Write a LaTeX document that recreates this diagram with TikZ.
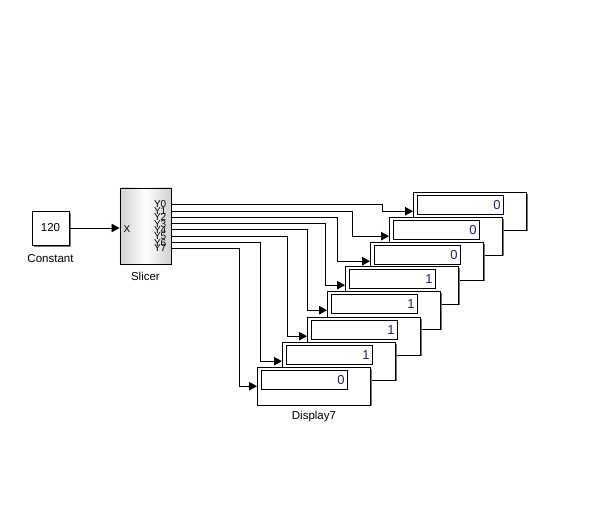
\documentclass[tikz,border=0pt]{standalone}
\usepackage{fontspec}
\setmainfont{Liberation Sans}
\usepackage{xcolor}
\usetikzlibrary{arrows.meta,positioning,shadows}

\definecolor{valcol}{RGB}{35,30,110}

\tikzset{
  blk/.style={draw=black, line width=0.9pt, fill=white, inner sep=0pt},
  shadeblk/.style={drop shadow={shadow xshift=1.5pt, shadow yshift=-1.5pt, fill=black!55, opacity=1}},
  dispbox/.style={blk, shadeblk, minimum width=113pt, minimum height=37.5pt, anchor=north west},
  valbox/.style={draw=black, line width=0.9pt, fill=white, minimum width=86pt, minimum height=19pt, anchor=north west, inner sep=0pt},
  valtxt/.style={anchor=east, inner sep=0pt, text=valcol, font=\fontsize{13}{13}\selectfont},
  wire/.style={line width=0.9pt, -{Triangle[length=8pt,width=8.5pt]}},
  lbl/.style={font=\fontsize{11.5}{12}\selectfont},
  portlbl/.style={anchor=east, inner sep=0pt, font=\fontsize{10}{10}\selectfont},
}

\begin{document}
\begin{tikzpicture}[x=1pt,y=-1pt]
\useasboundingbox (0,0) rectangle (597,515);

% Constant source
\node[blk, shadeblk, minimum width=37pt, minimum height=34pt, lbl] (const) at (50.5,228) {120};
\node[lbl, below=5pt of const] (constlbl) {Constant};

% Slicer block
\node[blk, shadeblk, left color=black!18, right color=black!18, middle color=white,
      minimum width=51pt, minimum height=76pt, anchor=north west] (slicer) at (119.5,187.5) {};
\node[lbl, below=4pt of slicer] (slicerlbl) {Slicer};
\node[portlbl, anchor=west] (xin) at (123.5,229) {X};
\draw[wire] (const.east) -- (const.east -| slicer.west);

% Output ports and displays
\foreach \i/\py/\tx/\ty/\bx/\val in {0/204.3/413/192/382/0, 1/211/389/217/352/0,
    2/217.3/370/242/337/0, 3/223.7/345/266/325.5/1, 4/229.7/327/291/307.5/1,
    5/236.3/307/317/287.3/1, 6/242.7/282/342/260.5/1, 7/248.5/257/367/239.3/0} {
  \coordinate (y\i) at (170.5,\py);
  \node[portlbl] (p\i) at (166.5,\py) {Y\i};
  \node[dispbox] (d\i) at (\tx,\ty) {};
  \node[valbox] (v\i) at ([xshift=4pt,yshift=-3pt]d\i.north west) {};
  \node[valtxt] (t\i) at ([xshift=-3pt]v\i.east) {\val};
  \draw[wire] (y\i) -- (\bx,\py) |- (d\i.west);
}
\node[lbl, below=2pt of d7] (displbl) {Display7};
\end{tikzpicture}
\end{document}
